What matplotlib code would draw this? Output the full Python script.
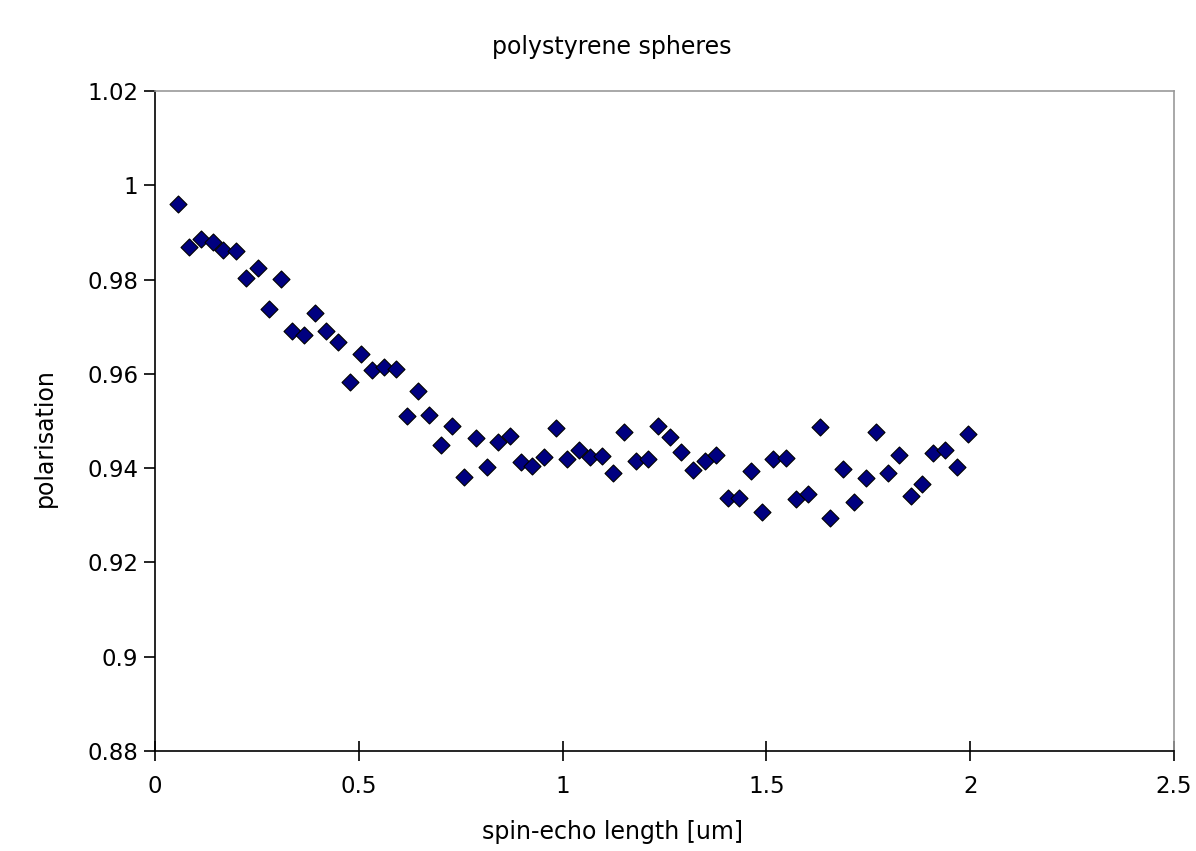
import matplotlib
matplotlib.use("Agg")
import matplotlib.pyplot as plt

x = [0.056, 0.083, 0.113, 0.142, 0.167, 0.199, 0.223, 0.253, 0.280, 0.309,
     0.336, 0.366, 0.393, 0.420, 0.449, 0.478, 0.505, 0.532, 0.562, 0.591,
     0.618, 0.645, 0.672, 0.702, 0.729, 0.758, 0.788, 0.815, 0.841, 0.871,
     0.898, 0.925, 0.954, 0.984, 1.011, 1.040, 1.067, 1.097, 1.124, 1.151,
     1.180, 1.210, 1.234, 1.264, 1.290, 1.320, 1.349, 1.376, 1.406, 1.433,
     1.462, 1.489, 1.516, 1.548, 1.573, 1.602, 1.632, 1.656, 1.688, 1.715,
     1.744, 1.769, 1.798, 1.825, 1.855, 1.882, 1.909, 1.938, 1.968, 1.995]
y = [0.9960, 0.9869, 0.9886, 0.9880, 0.9863, 0.9861, 0.9803, 0.9825, 0.9738, 0.9801,
     0.9691, 0.9682, 0.9729, 0.9691, 0.9668, 0.9583, 0.9642, 0.9608, 0.9615, 0.9610,
     0.9511, 0.9564, 0.9513, 0.9449, 0.9489, 0.9381, 0.9464, 0.9402, 0.9455, 0.9468,
     0.9413, 0.9404, 0.9424, 0.9485, 0.9419, 0.9438, 0.9424, 0.9426, 0.9390, 0.9477,
     0.9415, 0.9419, 0.9489, 0.9466, 0.9434, 0.9396, 0.9415, 0.9428, 0.9337, 0.9337,
     0.9394, 0.9307, 0.9419, 0.9421, 0.9335, 0.9345, 0.9487, 0.9294, 0.9398, 0.9328,
     0.9379, 0.9477, 0.9390, 0.9428, 0.9341, 0.9366, 0.9432, 0.9438, 0.9402, 0.9472]

xticks = [0, 0.5, 1, 1.5, 2, 2.5]
xticklabels = ["0", "0.5", "1", "1.5", "2", "2.5"]
yticks = [0.88, 0.9, 0.92, 0.94, 0.96, 0.98, 1.0, 1.02]
yticklabels = ["0.88", "0.9", "0.92", "0.94", "0.96", "0.98", "1", "1.02"]

title = "polystyrene spheres"
xlabel = "spin-echo length [um]"
ylabel = "polarisation"

plt.rcParams['font.family'] = ['DejaVu Sans']
W, H = 1196, 851
fig = plt.figure(figsize=(W / 100, H / 100), dpi=100)
ax = fig.add_axes([155 / W, 1 - 751 / H, (1174 - 155) / W, (751 - 91) / H])

ax.scatter(x, y, marker='D', s=75, facecolor='#000080', edgecolor='black',
           linewidths=0.8, zorder=3)

ax.set_xlim(0, 2.5)
ax.set_ylim(0.88, 1.02)
ax.set_xticks(xticks)
ax.set_xticklabels(xticklabels)
ax.set_yticks(yticks)
ax.set_yticklabels(yticklabels)

for side in ['top', 'right']:
    ax.spines[side].set_color('#999999')
    ax.spines[side].set_linewidth(1.2)
for side in ['left', 'bottom']:
    ax.spines[side].set_color('black')
    ax.spines[side].set_linewidth(1.2)

ax.tick_params(axis='x', direction='inout', length=14, width=1.2, labelsize=16.5, pad=10)
ax.tick_params(axis='y', direction='out', length=8, width=1.2, labelsize=16.5, pad=4)

fig.text(612 / W, 1 - 47 / H, title, ha='center', va='center', fontsize=17)
fig.text(612 / W, 1 - 832 / H, xlabel, ha='center', va='center', fontsize=17)
fig.text(45 / W, 1 - 438 / H, ylabel, ha='center', va='center', fontsize=17,
         rotation=90)

fig.savefig("out.png", dpi=100)
